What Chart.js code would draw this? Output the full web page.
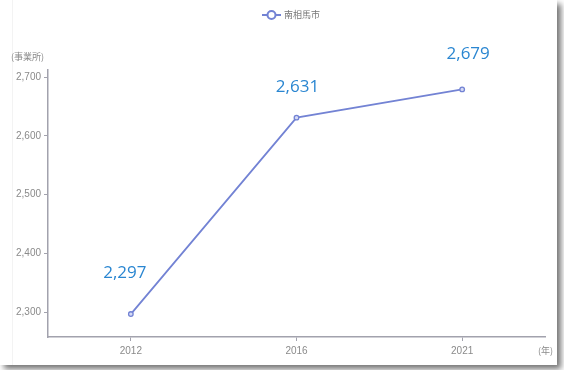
<!DOCTYPE html>
<html lang="ja">
<head>
<meta charset="utf-8">
<title>南相馬市 事業所数</title>
<script src="https://cdn.jsdelivr.net/npm/chart.js@4.4.1/dist/chart.umd.min.js"></script>
<style>
  html, body { margin: 0; padding: 0; background: #fff; }
  #wrap { position: relative; width: 564px; height: 370px; overflow: hidden; }
  #card {
    position: absolute; left: 0; top: 0; width: 557px; height: 365px;
    background: #fff; box-shadow: 4px 4px 6px rgba(0, 0, 0, 0.55);
  }
  #card::before {
    content: ""; position: absolute; left: 12px; top: 0; bottom: 0;
    border-left: 1px solid #f3f3f3;
  }
  #chart { position: absolute; left: 0; top: 0; }
</style>
</head>
<body>
<div id="wrap">
  <div id="card"></div>
  <canvas id="chart" width="564" height="370"></canvas>
</div>
<script>
// 南相馬市の事業所数
const years = ["2012", "2016", "2021"];
const offices = [2297, 2631, 2679];
const yTicks = [2300, 2400, 2500, 2600, 2700];
const seriesName = "南相馬市";

const lineColor = "#7383d4";
const labelColor = "#2a86d1";
const axisColor = "#a2a2ad";
const tickFontColor = "#8a8a8a";

// 凡例・軸タイトル・値ラベル
const decorations = {
    id: "decorations",
    afterDatasetsDraw(chart, args, opts) {
        const ctx = chart.ctx;
        ctx.save();

        // 凡例
        const ly = 15;
        ctx.strokeStyle = lineColor;
        ctx.lineWidth = 2;
        ctx.beginPath();
        ctx.moveTo(262, ly);
        ctx.lineTo(281, ly);
        ctx.stroke();
        ctx.beginPath();
        ctx.arc(271.5, ly, 4, 0, Math.PI * 2);
        ctx.fillStyle = "#fff";
        ctx.fill();
        ctx.stroke();
        ctx.fillStyle = "#777";
        ctx.font = "9px 'Noto Sans CJK JP'";
        ctx.textAlign = "left";
        ctx.textBaseline = "middle";
        ctx.fillText(seriesName, 284, ly);

        // 軸タイトル
        ctx.fillStyle = tickFontColor;
        ctx.font = "9px 'Noto Sans CJK JP'";
        ctx.fillText("(事業所)", 11, 57);
        ctx.fillText("(年)", 538, 351);

        // 値ラベル
        const meta = chart.getDatasetMeta(0);
        ctx.fillStyle = labelColor;
        ctx.font = "17px 'Open Sans'";
        ctx.textAlign = "center";
        meta.data.forEach((pt, i) => {
            const off = opts.offsets[i];
            const v = chart.data.datasets[0].data[i];
            ctx.fillText(v.toLocaleString("en-US"), pt.x + off[0], pt.y + off[1]);
        });
        ctx.restore();
    }
};

new Chart(document.getElementById("chart"), {
    type: "line",
    data: {
        labels: years,
        datasets: [{
            label: seriesName,
            data: offices,
            borderColor: lineColor,
            borderWidth: 1.8,
            pointRadius: 2.3,
            pointBorderWidth: 1.3,
            pointBackgroundColor: "#d5daf5",
            pointBorderColor: lineColor,
            tension: 0
        }]
    },
    options: {
        responsive: false,
        animation: false,
        layout: { padding: { left: 0, right: 19, top: 70, bottom: 0 } },
        plugins: {
            legend: { display: false },
            tooltip: { enabled: false },
            decorations: { offsets: [[-6, -41], [1, -30], [6, -35]] }
        },
        scales: {
            x: {
                offset: true,
                border: { color: axisColor, width: 1.5 },
                grid: { display: true, offset: false, drawOnChartArea: false, drawTicks: true, tickLength: 4, color: axisColor },
                ticks: { color: tickFontColor, font: { size: 10, family: "'Liberation Sans'" }, padding: 4 },
                afterFit(scale) { scale.height = 33; }
            },
            y: {
                min: 2258,
                max: 2712,
                border: { color: axisColor, width: 1.5 },
                grid: { drawOnChartArea: false, drawTicks: true, tickLength: 4, color: axisColor },
                ticks: {
                    color: tickFontColor,
                    font: { size: 10, family: "'Liberation Sans'" },
                    padding: 3,
                    callback: v => v.toLocaleString("en-US")
                },
                afterBuildTicks(scale) { scale.ticks = yTicks.map(v => ({ value: v })); },
                afterFit(scale) { scale.width = 48; }
            }
        }
    },
    plugins: [decorations]
});
</script>
</body>
</html>
